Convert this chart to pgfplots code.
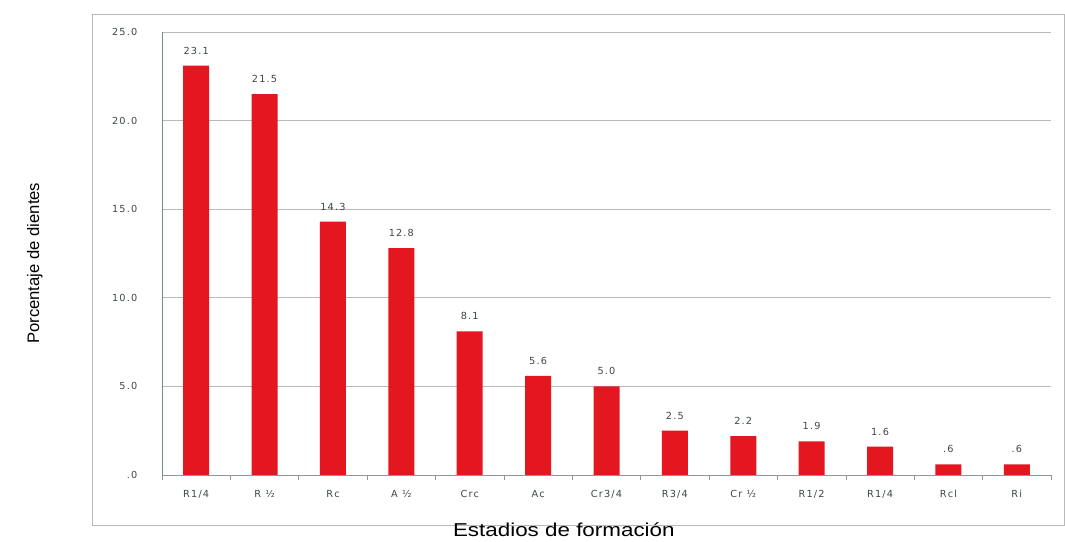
\documentclass[border=0pt]{standalone}
\usepackage{pgfplots}
\pgfplotsset{compat=1.18}
\usepackage{fontspec}
\setmainfont{Liberation Sans}
\newfontfamily\tickfont[LetterSpace=12]{DejaVu Sans}
\definecolor{barred}{RGB}{228,22,32}
\definecolor{gridgray}{RGB}{185,185,185}
\definecolor{axisgray}{RGB}{120,140,135}
\definecolor{labgray}{RGB}{60,70,70}

\pgfplotstableread{
idx val lab
0 23.1 23.1
1 21.5 21.5
2 14.3 14.3
3 12.8 12.8
4 8.1 8.1
5 5.6 5.6
6 5.0 5.0
7 2.5 2.5
8 2.2 2.2
9 1.9 1.9
10 1.6 1.6
11 0.6 .6
12 0.6 .6
}\stadios

\begin{document}
\begin{tikzpicture}
% canvas 798.75pt x 406.5pt, origin bottom-left
\useasboundingbox (0pt,0pt) rectangle (798.75pt,406.5pt);
% chart frame
\draw[gridgray,line width=0.6pt] (69pt,12.75pt) rectangle (798pt,396pt);
\begin{axis}[
  at={(121.5pt,50.25pt)}, anchor=south west,
  scale only axis,
  width=666.75pt, height=332.25pt,
  xmin=-0.5, xmax=12.5,
  ymin=0, ymax=25,
  axis line style={draw=none},
  ytick={0,5,...,25},
  yticklabels={.0,5.0,10.0,15.0,20.0,25.0},
  ymajorgrids,
  grid style={gridgray,line width=0.5pt},
  major tick length=0pt,
  xtick={0,...,12},
  xticklabels={R1/4,R ½,Rc,A ½,Crc,Ac,Cr3/4,R3/4,Cr ½,R1/2,R1/4,Rcl,Ri},
  tick label style={font=\tickfont\fontsize{7.3}{8}\selectfont, text=labgray},
  yticklabel style={xshift=-15pt},
  xticklabel style={yshift=-8pt},
  xlabel={Estadios de formación},
  xlabel style={font=\fontsize{14}{16}\selectfont, xscale=1.2, anchor=center,
    at={(axis description cs:0.452,0)}, yshift=-41pt},
  ylabel={Porcentaje de dientes},
  ylabel style={font=\fontsize{12.5}{14}\selectfont, anchor=center,
    at={(axis description cs:-0.143,0.478)}},
  clip=false,
  nodes near coords,
  point meta=explicit symbolic,
  every node near coord/.append style={font=\tickfont\fontsize{7.3}{8}\selectfont, text=labgray, yshift=5pt},
]
% axes lines
\draw[axisgray,line width=0.6pt] (axis cs:-0.5,0) -- (axis cs:-0.5,25);
\draw[gridgray!80!black,line width=0.6pt] (axis cs:-0.5,0) -- (axis cs:12.5,0);
\pgfplotsinvokeforeach{0,...,13}{
  \draw[gridgray!80!black,line width=0.5pt] (axis cs:#1-0.5,0) -- ([yshift=-4pt]axis cs:#1-0.5,0);
}
\addplot[ybar, bar width=19.5pt, fill=barred, draw=none]
  table[x=idx, y=val, meta=lab] {\stadios};
\end{axis}
\end{tikzpicture}
\end{document}
